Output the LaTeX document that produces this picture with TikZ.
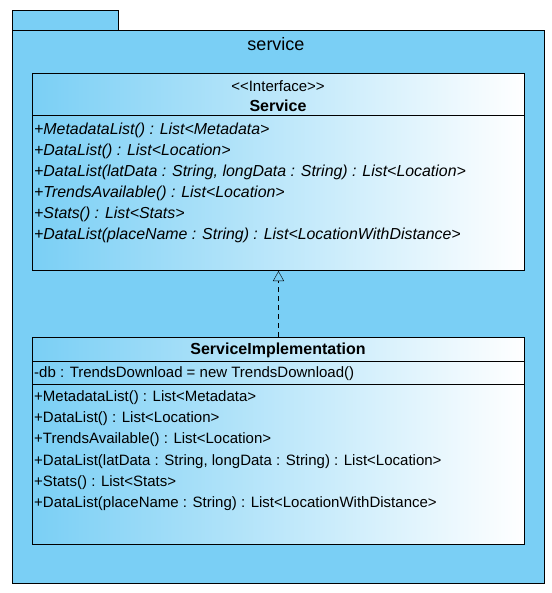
\documentclass[tikz,border=0pt]{standalone}
\usepackage{fontspec}
\setmainfont{Liberation Sans}
\usetikzlibrary{arrows.meta}
\definecolor{pkgblue}{HTML}{7ACFF5}
\tikzset{
	classbox/.style={draw, line width=1pt, left color=pkgblue, right color=white, minimum width=492pt, anchor=north west, inner sep=0pt},
	member/.style={anchor=base west, inner sep=0pt, font=\fontsize{15}{17}\selectfont},
	title/.style={anchor=base, inner sep=0pt, font=\fontsize{15}{17}\selectfont},
}
\begin{document}
\begin{tikzpicture}[x=1pt,y=-1pt]
		\useasboundingbox (0,0) rectangle (551,593);
		% Paquet
		\draw[fill=pkgblue, line width=1pt] (12,11) rectangle (118,31);
		\draw[fill=pkgblue, line width=1pt] (12,31) rectangle (544,583);
		\node[title, font=\fontsize{18}{20}\selectfont] (pkgname) at (276,51) {service};
		%
		% Interface
		%
		\node[classbox, minimum height=197pt] (iface) at (32,73) {};
		\node[title] (istereo) at (278,91.5) {<\kern0pt<Interface>\kern0pt>};
		\node[title, font=\fontsize{16}{18}\bfseries] (iname) at (278,111.5) {Service};
		\draw[line width=1pt] (iface.west |- 0,116) -- (iface.east |- 0,116);
		\foreach \k/\txt in {0/{+MetadataList() : List<Metadata>},1/{+DataList() : List<Location>},2/{+DataList(latData : String, longData : String) : List<Location>},3/{+TrendsAvailable() : List<Location>},4/{+Stats() : List<Stats>},5/{+DataList(placeName : String) : List<LocationWithDistance>}}{
			\node[member, font=\fontsize{15.9}{18}\itshape] (iop\k) at (34,135+21*\k) {\txt};
		}
		%
		% Implementation
		%
		\node[classbox, minimum height=207pt] (impl) at (32,337) {};
		\node[title, font=\fontsize{16}{18}\bfseries] (cname) at (278,354.5) {ServiceImplementation};
		\draw[line width=1pt] (impl.west |- 0,361) -- (impl.east |- 0,361);
		\node[member] (cattr) at (34,377.5) {-db : TrendsDownload = new TrendsDownload()};
		\draw[line width=1pt] (impl.west |- 0,384) -- (impl.east |- 0,384);
		\foreach \k/\txt in {0/{+MetadataList() : List<Metadata>},1/{+DataList() : List<Location>},2/{+TrendsAvailable() : List<Location>},3/{+DataList(latData : String, longData : String) : List<Location>},4/{+Stats() : List<Stats>},5/{+DataList(placeName : String) : List<LocationWithDistance>}}{
			\node[member] (cop\k) at (34,401.5+21.2*\k) {\txt};
		}
		%
		% Realisation
		%
		\draw[dashed, dash pattern=on 5pt off 4pt, -{Triangle[open, width=11pt, length=10pt]}] (impl.north) -- (iface.south);
	\end{tikzpicture}
\end{document}
